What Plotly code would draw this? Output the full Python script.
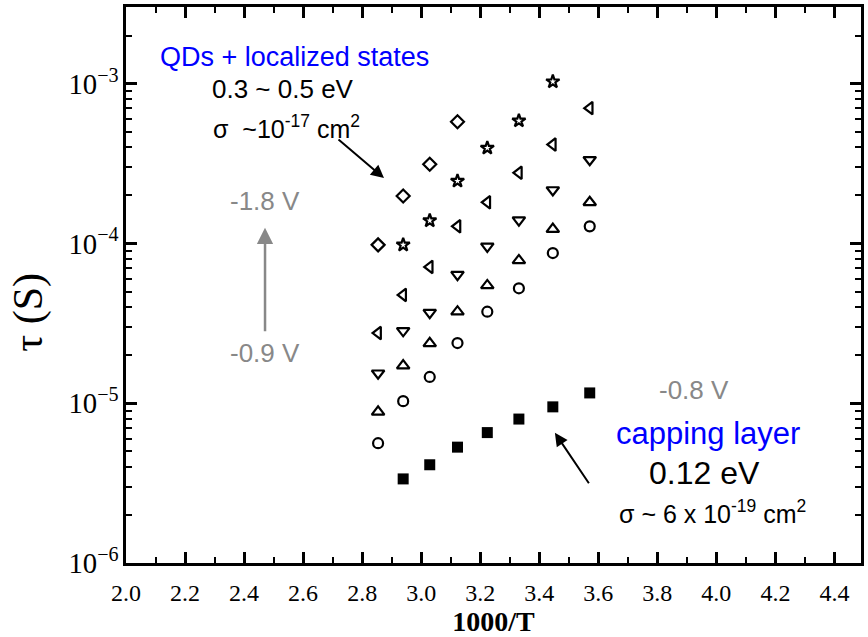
import plotly.graph_objects as go

# 1000/T columns (T = 350 ... 280 K)
x_all = [2.854, 2.939, 3.029, 3.123, 3.224, 3.331, 3.446, 3.571]

diamond_x = [2.854, 2.939, 3.029, 3.123]
diamond_y = [9.8e-5, 1.98e-4, 3.13e-4, 5.78e-4]

star_x = [2.939, 3.029, 3.123, 3.224, 3.331, 3.446]
star_y = [9.8e-5, 1.39e-4, 2.46e-4, 3.96e-4, 5.86e-4, 1.03e-3]

ltri_x = x_all
ltri_y = [2.75e-5, 4.76e-5, 7.13e-5, 1.28e-4, 1.81e-4, 2.77e-4, 4.16e-4, 7.03e-4]

dtri_x = x_all
dtri_y = [1.54e-5, 2.84e-5, 3.69e-5, 6.38e-5, 9.58e-5, 1.40e-4, 2.16e-4, 3.34e-4]

utri_x = x_all
utri_y = [8.83e-6, 1.72e-5, 2.37e-5, 3.74e-5, 5.46e-5, 7.83e-5, 1.23e-4, 1.81e-4]

circ_x = x_all
circ_y = [5.62e-6, 1.03e-5, 1.46e-5, 2.38e-5, 3.74e-5, 5.24e-5, 8.71e-5, 1.28e-4]

sq_x = [2.939, 3.029, 3.123, 3.224, 3.331, 3.446, 3.571]
sq_y = [3.36e-6, 4.12e-6, 5.31e-6, 6.55e-6, 7.96e-6, 9.49e-6, 1.16e-5]

x_range = [2.0, 4.49]
y_range_log = [-6, -2.52]

SANS = "Liberation Sans, Arial, sans-serif"
SERIF = "Liberation Serif, Times New Roman, serif"

fig = go.Figure()

def add(xs, ys, symbol, size, filled=False):
    if filled:
        marker = dict(symbol=symbol, size=size, color="black", line=dict(width=0))
    else:
        marker = dict(symbol=symbol, size=size, color="black",
                      line=dict(width=2.2, color="black"))
    fig.add_trace(go.Scatter(x=xs, y=ys, mode="markers", marker=marker,
                             showlegend=False, hoverinfo="skip"))

add(diamond_x, diamond_y, "diamond-open", 10)
add(star_x, star_y, "star-open", 10)
add(ltri_x, ltri_y, "triangle-left-open", 11)
add(dtri_x, dtri_y, "triangle-down-open", 11)
add(utri_x, utri_y, "triangle-up-open", 11)
add(circ_x, circ_y, "circle-open", 10)
add(sq_x, sq_y, "square", 11, filled=True)

# invisible trace to carry the minor-tick overlay axes
fig.add_trace(go.Scatter(x=[x_range[0]], y=[10 ** y_range_log[0]], xaxis="x2",
                         yaxis="y2", mode="markers", marker=dict(opacity=0),
                         showlegend=False, hoverinfo="skip"))

ann = []
def txt(x, y, text, size, color, xanchor="center"):
    ann.append(dict(x=x, y=y, xref="x", yref="y", text=text, showarrow=False,
                    xanchor=xanchor, yanchor="middle",
                    font=dict(family=SANS, size=size, color=color)))

txt(2.108, -2.833, "QDs + localized states", 27, "#0000ff", "left")
txt(2.283, -3.034, "0.3 ~ 0.5 eV", 26, "black", "left")
txt(2.289, -3.269, "σ &nbsp;~10<sup>-17</sup> cm<sup>2</sup>", 25, "black", "left")
txt(2.472, -3.734, "-1.8 V", 26, "#888888")
txt(2.472, -4.687, "-0.9 V", 26, "#888888")
txt(3.923, -4.916, "-0.8 V", 26, "#888888")
txt(3.970, -5.189, "capping layer", 31, "#0000ff")
txt(3.959, -5.437, "0.12 eV", 32, "black")
txt(3.663, -5.678, "σ ~ 6 x 10<sup>-19</sup> cm<sup>2</sup>", 25, "black", "left")

# arrows
ann.append(dict(x=2.874, y=-3.591, xref="x", yref="y", ax=-47, ay=-40, text="",
                showarrow=True, arrowhead=2, arrowsize=1.3, arrowwidth=2,
                arrowcolor="black"))
ann.append(dict(x=2.471, y=-3.901, xref="x", yref="y", ax=0, ay=105, text="",
                showarrow=True, arrowhead=2, arrowsize=1.3, arrowwidth=2.5,
                arrowcolor="#888888"))
ann.append(dict(x=3.453, y=-5.185, xref="x", yref="y", ax=35, ay=52, text="",
                showarrow=True, arrowhead=2, arrowsize=1.3, arrowwidth=2,
                arrowcolor="black"))

# y-axis title
ann.append(dict(x=-0.132, y=0.452, xref="paper", yref="paper", text="τ (S)",
                showarrow=False, textangle=-90, xanchor="center", yanchor="middle",
                font=dict(family=SERIF, size=42, color="black")))

fig.update_layout(
    width=868, height=637,
    margin=dict(l=126, r=4, t=7, b=68),
    plot_bgcolor="white", paper_bgcolor="white",
    annotations=ann,
    xaxis=dict(
        range=x_range, dtick=0.2, tick0=2.0, tickformat=".1f",
        ticks="inside", ticklen=11, tickwidth=2.5, tickcolor="black",
        showline=True, linewidth=2.5, linecolor="black", mirror="ticks",
        showgrid=False, zeroline=False,
        tickfont=dict(family=SERIF, size=24, color="black"),
        ticklabelstandoff=6,
        title=dict(text="<b>1000/T</b>", standoff=8,
                   font=dict(family=SERIF, size=28, color="black")),
    ),
    yaxis=dict(
        type="log", range=y_range_log, dtick=1,
        exponentformat="power", showexponent="all",
        ticks="inside", ticklen=11, tickwidth=2.5, tickcolor="black",
        showline=True, linewidth=2.5, linecolor="black", mirror="ticks",
        showgrid=False, zeroline=False,
        tickfont=dict(family=SERIF, size=23, color="black"),
        ticklabelstandoff=0,
    ),
    xaxis2=dict(
        overlaying="x", side="bottom", range=x_range, dtick=0.1, tick0=2.0,
        ticks="inside", ticklen=6, tickwidth=2.2, tickcolor="black",
        mirror="ticks", showgrid=False, showticklabels=False,
    ),
    yaxis2=dict(
        overlaying="y", side="left", type="log", range=y_range_log, dtick="D1",
        ticks="inside", ticklen=6, tickwidth=2.2, tickcolor="black",
        mirror="ticks", showgrid=False, showticklabels=False,
    ),
)

fig.write_html("out.html")
